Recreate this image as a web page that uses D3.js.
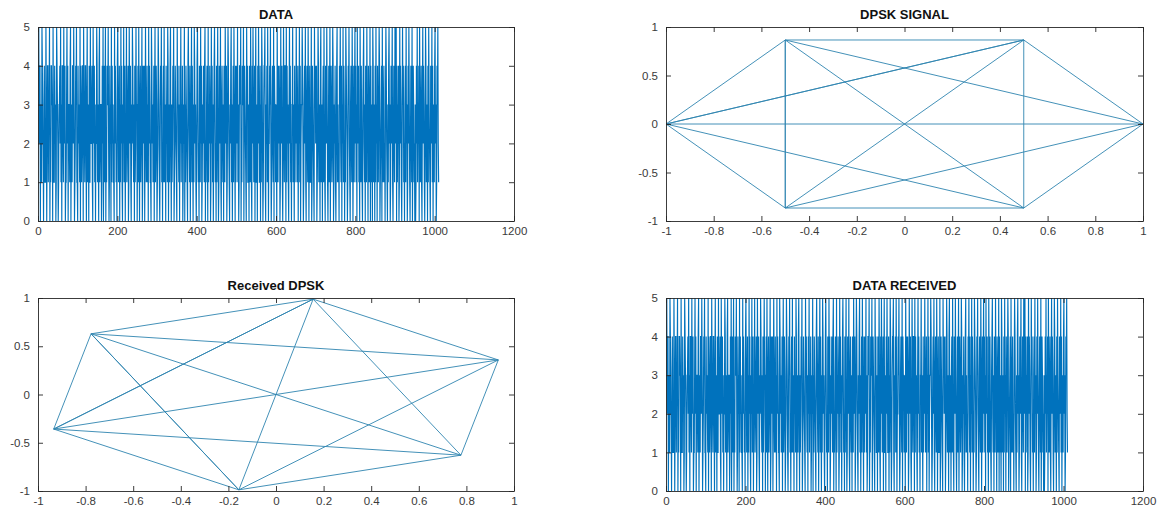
<!DOCTYPE html>
<html>
<head>
<meta charset="utf-8">
<script src="https://cdn.jsdelivr.net/npm/d3@7"></script>
<style>
  html, body { margin: 0; padding: 0; background: #ffffff; }
  svg { display: block; }
  .tick text { font-family: "Liberation Sans", Arial, Helvetica, sans-serif; font-size: 11.5px; fill: #3a3a3a; }
  .title { font-family: "Liberation Sans", Arial, Helvetica, sans-serif; font-size: 13px; font-weight: bold; fill: #111; }
</style>
</head>
<body>
<svg id="chart" width="1173" height="512"></svg>
<script>
// ---- Data (values read / estimated from the reference) ----
const dataSymbols = [
5,5,2,4,4,0,3,1,1,5,4,2,2,0,3,4,1,1,1,5,3,0,2,4,4,1,3,3,5,0,2,1,4,4,3,3,0,5,2,1,1,4,2,3,0,1,5,4,3,2,
0,1,3,3,4,2,5,1,3,0,4,4,2,1,5,2,3,4,0,1,1,3,5,2,4,0,3,3,2,1,4,5,0,2,3,1,4,4,2,5,3,0,1,2,4,3,5,1,1,0,
4,2,3,2,1,5,0,4,3,1,2,4,4,0,5,3,2,1,4,4,2,0,3,5,1,2,3,0,4,1,1,5,2,2,3,4,1,0,5,3,2,4,1,3,0,2,2,5,4,1,
3,2,0,4,5,1,2,3,3,0,1,4,2,5,0,2,4,1,3,5,0,2,1,4,3,3,5,2,0,1,4,2,3,0,5,1,4,2,3,1,1,0,5,2,4,3,1,2,0,4,
5,3,1,2,4,0,3,1,5,2,4,1,0,3,2,5,1,3,4,0,2,2,5,1,2,3,4,0,1,5,3,2,4,1,0,3,2,5,4,2,1,3,0,4,1,2,5,3,3,0,
2,4,1,5,2,0,3,4,1,2,3,5,0,1,4,2,3,4,0,2,5,3,1,2,4,1,3,0,5,2,4,3,1,1,0,5,4,2,3,1,2,4,0,3,5,1,2,4,3,0,
1,2,5,4,3,1,0,2,4,3,5,1,2,0,3,4,1,5,1,3,2,0,4,2,3,1,5,4,0,2,3,1,4,5,2,0,3,1,2,4,3,5,0,1,2,4,3,2,1,0,
5,3,4,2,1,3,0,4,2,5,1,3,2,4,0,1,3,2,5,0,3,1,4,3,2,1,0,4,5,3,2,1,4,0,2,3,5,1,4,2,0,3,1,5,4,2,3,1,0,2,
4,5,3,1,2,0,4,3,1,5,2,4,0,1,3,2,4,3,1,4,5,0,2,1,3,4,2,0,5,1,3,2,4,3,0,1,5,2,4,1,3,0,2,4,5,3,1,2,0,4,
1,3,5,2,0,1,4,3,2,5,1,0,3,4,2,1,3,0,4,2,1,5,3,2,4,0,1,3,5,4,2,1,0,3,2,4,5,1,3,0,2,4,1,5,3,2,0,4,1,3,
4,2,5,1,3,0,1,4,4,3,5,0,2,1,4,3,3,5,0,2,4,3,2,1,0,5,3,4,1,1,3,0,4,2,1,5,3,1,0,4,2,5,3,1,2,4,0,3,5,1,
1,3,0,4,2,5,3,1,1,4,0,3,1,5,4,2,0,1,3,4,4,5,1,0,3,2,4,1,5,3,0,2,2,4,3,5,2,0,1,3,4,2,1,5,0,4,3,3,1,3,
2,0,5,3,1,4,2,4,3,0,1,5,2,3,4,1,0,2,5,3,1,4,4,2,0,5,1,4,2,3,1,0,3,5,2,4,1,2,0,3,3,5,1,3,2,0,4,1,3,2,
5,3,1,2,4,0,3,2,5,1,4,0,2,3,3,5,4,2,0,1,3,4,2,5,1,0,3,4,2,1,5,3,0,2,4,1,1,2,5,0,1,4,3,2,1,0,5,3,4,2,
3,4,0,1,2,5,4,1,3,2,0,4,5,1,2,3,0,3,4,1,5,2,1,0,4,3,2,5,3,1,0,2,4,1,3,5,0,2,4,3,1,2,5,4,0,1,3,2,4,1,
0,2,4,5,1,3,1,2,0,4,3,5,2,1,4,0,3,2,5,1,4,3,0,2,1,5,4,3,2,0,1,4,3,5,2,1,0,3,4,2,1,5,3,0,2,4,1,3,5,2,
4,1,3,0,5,2,3,4,1,2,0,5,3,1,4,2,1,0,3,4,5,2,1,3,0,4,2,1,5,3,2,0,4,3,1,2,5,0,4,1,3,2,0,5,4,1,2,3,0,4,
1,5,2,3,0,4,2,1,3,5,4,0,1,2,3,4,0,5,2,1,3,4,1,2,0,3,5,4,2,1,0,3,1,4,5,2,3,0,1,4,2,3,5,1,0,2,4,3,1,5,
2,3,5,0,4,1,3,2,4,0,1,5,2,4,3,1,0,2,5,3,4,1,2,0,3,4,1,5,2,3,0,1,4,2,5,3,1,0,2,4,3,1,5,0,2,4,3,1,2,0,
3,0,1,4,2,5,1,3,2,4,0,5,3,1,2,4,1,0,3,5,2,4,3,1,0,2,5,4,1,3,2,0,4,1,5,3,2,1,0,4,3,2,5,1,4,0,3,2,1,4,
5,2,3,0,1,4,3,5,2,1
];
// Demodulated data is the same symbol stream as sent
const receivedSymbols = dataSymbols;

// DPSK constellation walk (transmitted): real / imaginary parts
const dpskRe = [1, 0.5, -0.5, -1, -0.5, 0.5, 1, -0.5, -0.5, 1, -1, 0.5, -0.5, -0.5, 0.5, -1, 0.5, 0.5];
const dpskIm = [0, 0.866, 0.866, 0, -0.866, -0.866, 0, 0.866, -0.866, 0, 0, 0.866, -0.866, 0.866, -0.866, 0, 0.866, -0.866];

// Received DPSK walk (rotated constellation)
const rxRe = [0.934, 0.156, -0.777, -0.934, -0.156, 0.777, 0.934, -0.777, -0.156, 0.934, -0.934, 0.156, -0.156, -0.777, 0.777, -0.934, 0.156, 0.777];
const rxIm = [0.358, 0.988, 0.629, -0.358, -0.988, -0.629, 0.358, 0.629, -0.988, 0.358, -0.358, 0.988, -0.988, 0.629, -0.629, -0.358, 0.988, -0.629];

// Tick labels
const dataXTicks = [0, 200, 400, 600, 800, 1000, 1200];
const dataYTicks = [0, 1, 2, 3, 4, 5];
const constXTicks = [-1, -0.8, -0.6, -0.4, -0.2, 0, 0.2, 0.4, 0.6, 0.8, 1];
const constYTicks = [-1, -0.5, 0, 0.5, 1];

const titles = ["DATA", "DPSK SIGNAL", "Received DPSK", "DATA RECEIVED"];

// ---- Drawing ----
const svg = d3.select("#chart");
const LINE = "#0072BD";
const AX = "#262626";

function fmt(v) { return String(+(+v).toFixed(2)); }

function panel(id, box, xDom, yDom, xTicks, yTicks, title) {
  const [x0, y0, x1, y1] = box;
  const x = d3.scaleLinear().domain(xDom).range([x0, x1]);
  const y = d3.scaleLinear().domain(yDom).range([y1, y0]);
  const g = svg.append("g");
  g.append("clipPath").attr("id", id).append("rect")
    .attr("x", x0).attr("y", y0).attr("width", x1 - x0).attr("height", y1 - y0);
  const plot = g.append("g").attr("clip-path", `url(#${id})`);

  const ts = 5;
  const style = a => {
    a.selectAll("path.domain").attr("stroke", AX).attr("stroke-width", 0.9);
    a.selectAll(".tick line").attr("stroke", AX).attr("stroke-width", 0.9);
  };
  g.append("g").attr("transform", `translate(0,${y1})`)
    .call(d3.axisBottom(x).tickValues(xTicks).tickSizeInner(-ts).tickSizeOuter(0).tickPadding(6).tickFormat(fmt))
    .call(style);
  g.append("g").attr("transform", `translate(0,${y0})`)
    .call(d3.axisTop(x).tickValues(xTicks).tickSizeInner(-ts).tickSizeOuter(0).tickFormat(""))
    .call(style);
  g.append("g").attr("transform", `translate(${x0},0)`)
    .call(d3.axisLeft(y).tickValues(yTicks).tickSizeInner(-ts).tickSizeOuter(0).tickPadding(8).tickFormat(fmt))
    .call(style);
  g.append("g").attr("transform", `translate(${x1},0)`)
    .call(d3.axisRight(y).tickValues(yTicks).tickSizeInner(-ts).tickSizeOuter(0).tickFormat(""))
    .call(style);
  g.selectAll(".tick text").attr("fill", "#3a3a3a");

  g.append("text").attr("class", "title")
    .attr("x", (x0 + x1) / 2).attr("y", y0 - 8)
    .attr("text-anchor", "middle").text(title);
  return { x, y, plot };
}

// Panels
const p1 = panel("c1", [38, 27, 514, 221], [0, 1200], [0, 5], dataXTicks, dataYTicks, titles[0]);
const p2 = panel("c2", [666, 27, 1143, 221], [-1, 1], [-1, 1], constXTicks, constYTicks, titles[1]);
const p3 = panel("c3", [38, 298, 514, 491], [-1, 1], [-1, 1], constXTicks, constYTicks, titles[2]);
const p4 = panel("c4", [666, 298, 1143, 491], [0, 1200], [0, 5], dataXTicks, dataYTicks, titles[3]);

function seriesLine(p, ys, width) {
  const line = d3.line().x((d, i) => p.x(i + 1)).y(d => p.y(d));
  p.plot.append("path").datum(ys)
    .attr("fill", "none").attr("stroke", LINE).attr("stroke-width", width)
    .attr("d", line);
}
function xyLine(p, xs, ys, color, width) {
  const pts = xs.map((v, i) => [v, ys[i]]);
  const line = d3.line().x(d => p.x(d[0])).y(d => p.y(d[1]));
  p.plot.append("path").datum(pts)
    .attr("fill", "none").attr("stroke", color).attr("stroke-width", width)
    .attr("stroke-linejoin", "round")
    .attr("d", line);
}

seriesLine(p1, dataSymbols, 1.15);
seriesLine(p4, receivedSymbols, 1.15);
xyLine(p2, dpskRe, dpskIm, "#2f84b0", 0.9);
xyLine(p3, rxRe, rxIm, "#2f84b0", 0.9);
</script>
</body>
</html>
